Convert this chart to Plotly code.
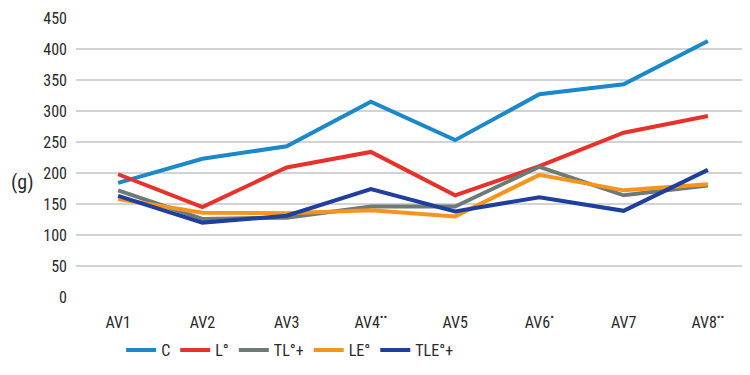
import plotly.graph_objects as go

categories = ["AV1", "AV2", "AV3", "AV4<sup>••</sup>", "AV5", "AV6<sup>•</sup>", "AV7", "AV8<sup>••</sup>"]
series_names = ["C", "L°", "TL°+", "LE°", "TLE°+"]
c_vals = [184, 223, 243, 315, 253, 327, 343, 413]
l_vals = [198, 145, 209, 234, 164, 211, 265, 292]
tl_vals = [172, 126, 128, 146, 146, 210, 164, 180]
le_vals = [158, 136, 135, 140, 130, 197, 172, 182]
tle_vals = [163, 120, 131, 174, 138, 161, 139, 205]
colors = ["#1a88c9", "#e8312b", "#6d7a78", "#f7941d", "#1f3f9e"]
y_ticks = [0, 50, 100, 150, 200, 250, 300, 350, 400, 450]

font_family = "Liberation Sans Narrow, Arial Narrow, Roboto Condensed, Liberation Sans, Arial, sans-serif"

fig = go.Figure()
for name, vals, col in zip(series_names, [c_vals, l_vals, tl_vals, le_vals, tle_vals], colors):
    fig.add_trace(go.Scatter(x=categories, y=vals, name=name, mode="lines",
                             line=dict(color=col, width=4)))

# page body has an 8px default margin, so the figure is sized/offset to compensate
fig.update_layout(
    width=742, height=367,
    margin=dict(l=68, r=0, t=10, b=78, autoexpand=False),
    plot_bgcolor="white", paper_bgcolor="white",
    font=dict(family=font_family, size=16, color="#2a2a2a"),
    showlegend=True,
    legend=dict(orientation="h", x=0.067, xanchor="left", y=-0.19, yanchor="middle",
                font=dict(size=16, color="#2a2a2a"), itemwidth=30, tracegroupgap=0),
    xaxis=dict(type="category", range=[-0.5, 7.5], showgrid=False, showline=False, ticks="",
               tickfont=dict(size=16), zeroline=False, ticklabelstandoff=14),
    yaxis=dict(range=[0, 450], tickvals=y_ticks, showgrid=True, gridcolor="#d3d3d3",
               gridwidth=2, zeroline=False, showline=False, ticks="",
               tickfont=dict(size=16), ticklabelstandoff=8),
    annotations=[dict(text="(g)", x=0.0, xref="paper", y=185, yref="y",
                      xanchor="center", yanchor="middle", xshift=-54,
                      showarrow=False, font=dict(size=20, color="#2a2a2a"))],
)

fig.write_html("out.html")
